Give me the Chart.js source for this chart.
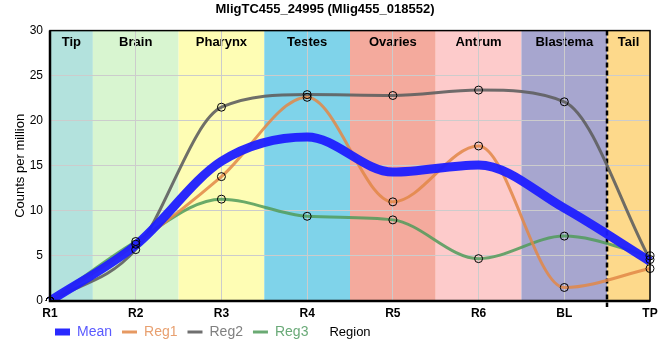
<!DOCTYPE html>
<html>
<head>
<meta charset="utf-8">
<script src="https://cdn.jsdelivr.net/npm/chart.js@4.4.1/dist/chart.umd.min.js"></script>
<style>
  html, body { margin: 0; padding: 0; background: #ffffff; }
  #wrap { width: 660px; height: 360px; }
</style>
</head>
<body>
<div id="wrap"><canvas id="c" width="660" height="360"></canvas></div>
<script>
// ---- data ----
const categories = ['R1', 'R2', 'R3', 'R4', 'R5', 'R6', 'BL', 'TP'];
const meanValues = [0, 6.2, 15.5, 18.2, 14.3, 15.1, 10.3, 4.4];
const reg1Values = [0, 6.3, 13.8, 22.6, 11.0, 17.2, 1.5, 3.6];
const reg2Values = [0, 5.7, 21.5, 22.9, 22.8, 23.4, 22.1, 4.6];
const reg3Values = [0, 6.6, 11.3, 9.4, 9.0, 4.7, 7.2, 5.0];
const seriesNames = ['Mean', 'Reg1', 'Reg2', 'Reg3'];
const regionNames = ['Tip', 'Brain', 'Pharynx', 'Testes', 'Ovaries', 'Antrum', 'Blastema', 'Tail'];
const regionStart = [0, 0.5, 1.5, 2.5, 3.5, 4.5, 5.5, 6.5];
const regionEnd   = [0.5, 1.5, 2.5, 3.5, 4.5, 5.5, 6.5, 7];
const tailBoundary = 6.5;
const yMin = 0, yMax = 30, yStep = 5;
const titleText = 'MligTC455_24995 (Mlig455_018552)';
const yTitle = 'Counts per million';
const xTitle = 'Region';

// ---- styles ----
const regionColors = ['#b3e2dd', '#d8f5d0', '#fefdb4', '#7fd3ea', '#f4aa9d', '#fdcbcb', '#a7a6cf', '#fdd98b'];
const lineColors = ['rgba(30,30,255,0.95)', 'rgba(226,135,70,0.85)', 'rgba(95,95,95,0.9)', 'rgba(80,155,90,0.85)'];
const textColors = ['#5a5aff', '#e8a070', '#808080', '#6aaa78'];
const FONT = "'Liberation Sans', Arial, sans-serif";

const bgPlugin = {
  id: 'bg',
  afterLayout(chart) {
    const lg = chart.legend;
    if (lg) { lg.left -= 5; lg.right -= 5; lg.top -= 6; lg.bottom -= 6; }
  },
  beforeDraw(chart) {
    const {ctx, chartArea: a, scales: {x}} = chart;
    ctx.save();
    for (let i = 0; i < regionNames.length; i++) {
      const x0 = x.getPixelForValue(regionStart[i]);
      const x1 = x.getPixelForValue(regionEnd[i]);
      ctx.fillStyle = regionColors[i];
      ctx.fillRect(x0, a.top, x1 - x0, a.bottom - a.top);
    }
    ctx.fillStyle = '#000';
    ctx.font = 'bold 13px ' + FONT;
    ctx.textAlign = 'center';
    ctx.textBaseline = 'middle';
    for (let i = 0; i < regionNames.length; i++) {
      const x0 = x.getPixelForValue(regionStart[i]);
      const x1 = x.getPixelForValue(regionEnd[i]);
      ctx.fillText(regionNames[i], (x0 + x1) / 2, a.top + 12);
    }
    ctx.restore();
  },
  beforeDatasetsDraw(chart) {
    const {ctx, chartArea: a, scales: {x}} = chart;
    const xd = Math.round(x.getPixelForValue(tailBoundary));
    ctx.save();
    ctx.strokeStyle = '#000';
    ctx.lineWidth = 2.5;
    ctx.setLineDash([5, 3]);
    ctx.beginPath();
    ctx.moveTo(xd, a.top);
    ctx.lineTo(xd, a.bottom + 6);
    ctx.stroke();
    ctx.restore();
  },
  afterDraw(chart) {
    const {ctx, chartArea: a} = chart;
    ctx.save();
    ctx.strokeStyle = '#000';
    ctx.lineWidth = 1.5;
    ctx.strokeRect(a.left, a.top, a.right - a.left, a.bottom - a.top);
    ctx.lineWidth = 2.5;
    ctx.beginPath();
    ctx.moveTo(a.left, a.top);
    ctx.lineTo(a.left, a.bottom);
    ctx.lineTo(a.right, a.bottom);
    ctx.stroke();
    const lg = chart.legend;
    const hb = lg.legendHitBoxes && lg.legendHitBoxes[0];
    const yy = hb ? hb.top + hb.height / 2 : a.bottom + 30;
    ctx.fillStyle = '#000';
    ctx.font = '13px ' + FONT;
    ctx.textAlign = 'center';
    ctx.textBaseline = 'middle';
    ctx.fillText(xTitle, (a.left + a.right) / 2, yy);
    ctx.restore();
  }
};

const regSeries = [reg1Values, reg2Values, reg3Values];
const datasets = [{
  label: seriesNames[0], data: meanValues, borderColor: lineColors[0], backgroundColor: lineColors[0],
  borderWidth: 9, pointRadius: 0, cubicInterpolationMode: 'monotone', order: 2, fill: false
}];
regSeries.forEach((vals, k) => {
  datasets.push({
    label: seriesNames[k + 1], data: vals, borderColor: lineColors[k + 1], backgroundColor: lineColors[k + 1],
    borderWidth: 3, pointRadius: 0, cubicInterpolationMode: 'monotone', order: 3, fill: false
  });
});
regSeries.forEach((vals, k) => {
  datasets.push({
    label: seriesNames[k + 1] + ' pts', data: vals, showLine: false,
    pointRadius: 4, pointBorderWidth: 1, pointBorderColor: '#000', pointBackgroundColor: 'rgba(0,0,0,0)',
    order: 1
  });
});

new Chart(document.getElementById('c'), {
  type: 'line',
  data: { labels: categories, datasets },
  plugins: [bgPlugin],
  options: {
    responsive: false,
    animation: false,
    layout: { padding: { left: 0, right: 10, top: 0, bottom: 5 } },
    plugins: {
      tooltip: { enabled: false },
      title: {
        display: true, text: titleText, color: '#000',
        font: { family: FONT, size: 13, weight: 'bold' },
        padding: { top: 2, bottom: 13 }
      },
      legend: {
        position: 'bottom', align: 'start', fullSize: false,
        labels: {
          usePointStyle: true, pointStyleWidth: 15, padding: 10,
          font: { family: FONT, size: 14 },
          generateLabels() {
            return seriesNames.map((n, i) => ({
              text: n, fillStyle: lineColors[i], strokeStyle: lineColors[i],
              lineWidth: i === 0 ? 7 : 3, pointStyle: 'line', fontColor: textColors[i],
              hidden: false, datasetIndex: i
            }));
          }
        },
        onClick() {}
      }
    },
    scales: {
      x: {
        type: 'category', offset: false,
        grid: { color: '#cccccc', lineWidth: 1, drawTicks: false },
        border: { display: false },
        ticks: { color: '#000', font: { family: FONT, size: 12, weight: 'bold' }, padding: 5, maxRotation: 0 },
        afterFit(s) { s.height = 20; s.paddingLeft = 0; s.paddingRight = 0; }
      },
      y: {
        min: yMin, max: yMax,
        grid: { color: '#cccccc', lineWidth: 1, drawTicks: false },
        border: { display: false },
        ticks: { stepSize: yStep, color: '#000', font: { family: FONT, size: 12 }, padding: 7 },
        title: { display: true, text: yTitle, color: '#000', font: { family: FONT, size: 13 }, padding: { top: 13, bottom: 0 } },
        afterFit(s) { s.width = 50; }
      }
    }
  }
});
</script>
</body>
</html>
